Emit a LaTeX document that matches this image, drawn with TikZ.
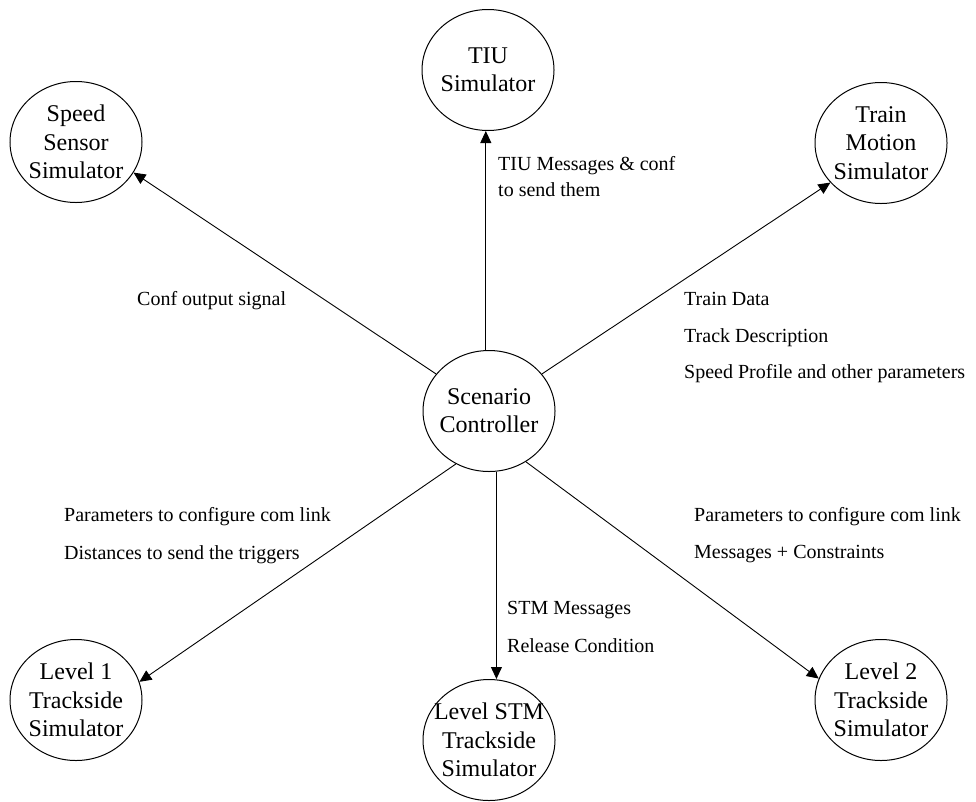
\documentclass[tikz,border=0pt]{standalone}
\usepackage{fontspec}
\setmainfont{Liberation Serif}
\usetikzlibrary{shapes.geometric}
\usetikzlibrary{arrows.meta}

\tikzset{
  sim/.style={draw,ellipse,line width=1pt,minimum width=132pt,minimum height=121pt,inner xsep=-25pt,inner ysep=0pt,align=center,font=\fontsize{24}{28.3}\selectfont},
  msg/.style={anchor=base west,inner sep=0pt,font=\fontsize{20}{24}\selectfont},
  flow/.style={-{Triangle[length=12pt,width=11pt]},line width=0.9pt}
}

\begin{document}
\begin{tikzpicture}[x=1pt,y=-1pt]
\useasboundingbox (0,0) rectangle (976,801);
\node[sim] (sc) at (489,411) {Scenario\\Controller};
\node[sim] (speed) at (76,142) {Speed\\Sensor\\Simulator};
\node[sim] (tiu) at (488,70) {TIU\\Simulator};
\node[sim] (motion) at (881,143) {Train\\Motion\\Simulator};
\node[sim] (lvl1) at (76,700) {Level 1\\Trackside\\Simulator};
\node[sim] (lvlstm) at (489,740) {Level STM\\Trackside\\Simulator};
\node[sim] (lvl2) at (881,700) {Level 2\\Trackside\\Simulator};
\draw[flow] (sc.145) -- (speed.-28);
\draw[flow] (sc.93) -- (sc.93 |- tiu.south);
\draw[flow] (sc.35) -- (motion.218);
\draw[flow] (sc.-122) -- (lvl1.16);
\draw[flow] (sc.-83) -- (sc.-83 |- lvlstm.north);
\draw[flow] (sc.-54) -- (lvl2.161);
\path (137,305) node[msg] (conf) {Conf output signal}
  (498,170) node[msg] (tiua) {TIU Messages \& conf}
  (498,196) node[msg] (tiub) {to send them}
  (684,305) node[msg] (traina) {Train Data}
  (684,342) node[msg] (trainb) {Track Description}
  (684,378) node[msg] (trainc) {Speed Profile and other parameters}
  (64,521) node[msg] (lvl1a) {Parameters to configure com link}
  (64,559) node[msg] (lvl1b) {Distances to send the triggers}
  (507,614) node[msg] (stma) {STM Messages}
  (507,652) node[msg] (stmb) {Release Condition}
  (694,521) node[msg] (lvl2a) {Parameters to configure com link}
  (694,558) node[msg] (lvl2b) {Messages + Constraints};
\end{tikzpicture}
\end{document}
